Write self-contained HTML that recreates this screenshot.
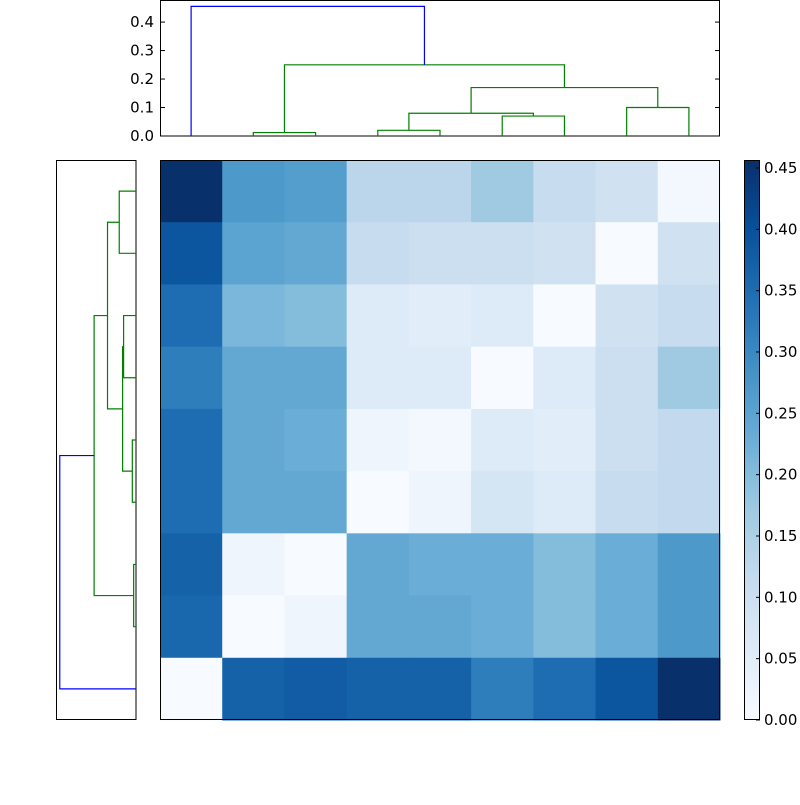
<!DOCTYPE html>
<html><head><meta charset="utf-8">
<style>
body{margin:0;background:#fff;}
svg text{font-family:"DejaVu Sans","Liberation Sans",sans-serif;font-size:15px;fill:#000;}
</style></head>
<body>
<svg id="chart" width="800" height="800" xmlns="http://www.w3.org/2000/svg">
<rect width="800" height="800" fill="#fff"/>
</svg>
<script>
const matrixValues = [
 [0.455,0.27,0.26,0.13,0.13,0.17,0.11,0.09,0.01],
 [0.39,0.25,0.24,0.11,0.10,0.10,0.09,0.00,0.09],
 [0.35,0.21,0.20,0.06,0.05,0.06,0.00,0.09,0.11],
 [0.32,0.24,0.24,0.06,0.06,0.00,0.06,0.10,0.17],
 [0.35,0.24,0.23,0.02,0.01,0.06,0.05,0.10,0.12],
 [0.35,0.24,0.24,0.00,0.02,0.08,0.06,0.11,0.12],
 [0.37,0.02,0.00,0.24,0.23,0.23,0.20,0.23,0.27],
 [0.36,0.00,0.02,0.24,0.24,0.23,0.20,0.23,0.27],
 [0.00,0.37,0.38,0.37,0.37,0.32,0.35,0.39,0.455]
];
// dendrogram links: [leftPos, rightPos, height, leftChildHeight, rightChildHeight, color]; positions in leaf units (0..8, non-integer = cluster centers)
const topLinks = [
 [1,2,0.012,0,0,"g"],
 [3,4,0.02,0,0,"g"],
 [5,6,0.07,0,0,"g"],
 [7,8,0.10,0,0,"g"],
 [3.5,5.5,0.08,0.02,0.07,"g"],
 [4.5,7.5,0.17,0.08,0.10,"g"],
 [1.5,6,0.25,0.012,0.17,"g"],
 [0,3.75,0.455,0,0.25,"b"]
];
const leftLinks = [
 [0,1,0.10,0,0,"g"],
 [2,3,0.074,0,0,"g"],
 [4,5,0.022,0,0,"g"],
 [6,7,0.014,0,0,"g"],
 [2.5,4.5,0.08,0.074,0.022,"g"],
 [0.5,3.5,0.17,0.10,0.08,"g"],
 [2,6.5,0.25,0.17,0.014,"g"],
 [4.25,8,0.455,0.25,0,"b"]
];
const topTicks = [0.0,0.1,0.2,0.3,0.4];
const cbTicks = [0.00,0.05,0.10,0.15,0.20,0.25,0.30,0.35,0.40,0.45];

const svg = document.getElementById('chart');
const NS = "http://www.w3.org/2000/svg";
function mk(tag, attrs){const e=document.createElementNS(NS,tag);for(const k in attrs)e.setAttribute(k,attrs[k]);svg.appendChild(e);return e;}

const HX0=160,HY0=160,HW=560,HH=560,N=9,cell=HW/N;
const vmax=0.4565;
const stops=["#f7fbff","#deebf7","#c6dbef","#9ecae1","#6baed6","#4292c6","#2171b5","#08519c","#08306b"];
function hex(h){return [1,3,5].map(i=>parseInt(h.substr(i,2),16));}
function blues(t){t=Math.max(0,Math.min(1,t));const p=t*8,i=Math.min(7,Math.floor(p)),f=p-i;const a=hex(stops[i]),b=hex(stops[i+1]);return "rgb("+a.map((v,k)=>Math.round(v+(b[k]-v)*f)).join(",")+")";}
const leafX = i => HX0 + cell*(i+0.5);
const leafY = i => HY0 + cell*(i+0.5);

// heatmap
matrixValues.forEach((row,r)=>row.forEach((v,c)=>{
 const e=mk('rect',{x:HX0+c*cell,y:HY0+r*cell,width:cell+0.5,height:cell+0.5,fill:blues(v/vmax)});
 
 
}));
let f=mk('rect',{x:HX0+0.5,y:HY0+0.5,width:HW-1,height:HH-1,fill:'none',stroke:'#000'});


// top dendrogram
const TY0=0,TY1=136,tmax=0.4775;
const tY = v => TY1 - v/tmax*(TY1-TY0);
f=mk('rect',{x:160.5,y:0.5,width:559,height:135.5,fill:'none',stroke:'#000'});

topLinks.forEach(l=>{
 const x1=leafX(l[0]),x2=leafX(l[1]);
 const e=mk('polyline',{points:`${x1},${tY(l[3])} ${x1},${tY(l[2])} ${x2},${tY(l[2])} ${x2},${tY(l[4])}`,fill:'none',stroke:l[5]==='b'?'#0000ff':'#008000','stroke-width':1.2});
 
 
});
topTicks.forEach(t=>{
 const y=tY(t);
 mk('line',{x1:160,x2:165,y1:y,y2:y,stroke:'#000'});
 mk('line',{x1:715,x2:720,y1:y,y2:y,stroke:'#000'});
 const e=mk('text',{x:154,y:y+5,'text-anchor':'end'});e.textContent=t.toFixed(1);
 
 
});

// left dendrogram
const LX0=56,LX1=136;
const lX = v => LX1 - v/tmax*(LX1-LX0);
f=mk('rect',{x:56.5,y:160.5,width:79.5,height:559,fill:'none',stroke:'#000'});

leftLinks.forEach(l=>{
 const y1=leafY(l[0]),y2=leafY(l[1]);
 const e=mk('polyline',{points:`${lX(l[3])},${y1} ${lX(l[2])},${y1} ${lX(l[2])},${y2} ${lX(l[4])},${y2}`,fill:'none',stroke:l[5]==='b'?'#0000ff':'#008000','stroke-width':1.2});
 
 
});

// colorbar
const CX=744,CW=16;
const defs=mk('defs',{});
const g=document.createElementNS(NS,'linearGradient');g.setAttribute('id','cbg');g.setAttribute('x1','0');g.setAttribute('y1','1');g.setAttribute('x2','0');g.setAttribute('y2','0');
defs.appendChild(g);
stops.forEach((s,i)=>{const st=document.createElementNS(NS,'stop');st.setAttribute('offset',i/8);st.setAttribute('stop-color',s);g.appendChild(st);});
const cb=mk('rect',{x:CX+0.5,y:160.5,width:CW-1,height:559,fill:'url(#cbg)',stroke:'#000'});

const cY = v => 720 - v/vmax*560;
cbTicks.forEach(t=>{
 const y=cY(t);
 mk('line',{x1:CX+CW-4,x2:CX+CW,y1:y,y2:y,stroke:'#000'});
 const e=mk('text',{x:CX+CW+4,y:y+5});e.textContent=t.toFixed(2);
 
 
});
</script>
</body></html>
